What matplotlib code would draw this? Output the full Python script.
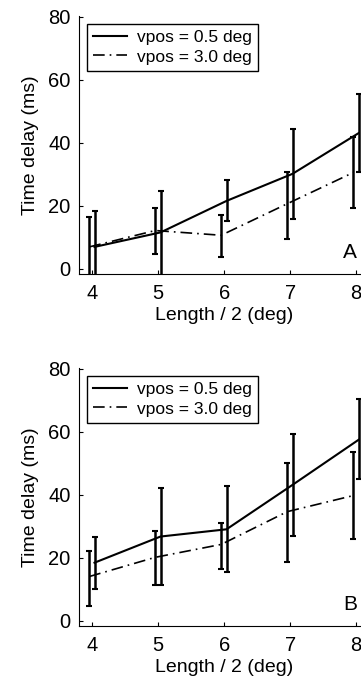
import matplotlib
matplotlib.use("Agg")
import matplotlib.pyplot as plt
import numpy as np

plt.rcParams['font.family'] = ['Liberation Sans', 'DejaVu Sans']

x = [4, 5, 6, 7, 8]
labels = ["vpos = 0.5 deg", "vpos = 3.0 deg"]

# Panel A
a_solid = [7.0, 11.6, 21.6, 30.2, 43.1]
a_solid_lo = [-5.0, -3.0, 15.1, 15.8, 30.8]
a_solid_hi = [18.5, 24.8, 28.3, 44.5, 55.4]
a_dash = [7.0, 12.2, 10.7, 20.7, 30.6]
a_dash_lo = [-5.0, 4.7, 3.8, 9.5, 19.3]
a_dash_hi = [16.4, 19.3, 17.2, 30.8, 42.0]

# Panel B
b_solid = [18.5, 26.8, 29.1, 43.2, 57.5]
b_solid_lo = [10.1, 11.4, 15.4, 27.0, 45.0]
b_solid_hi = [26.5, 42.3, 42.9, 59.5, 70.4]
b_dash = [14.1, 20.2, 24.3, 34.7, 39.8]
b_dash_lo = [4.8, 11.4, 16.6, 18.8, 26.1]
b_dash_hi = [22.2, 28.6, 31.2, 50.1, 53.5]

W, H = 361, 677
fig = plt.figure(figsize=(W / 100, H / 100), dpi=100)

xlim = (3.8, 8.2)
ylim = (-1.6, 80.3)
ax_w = (xlim[1] - xlim[0]) * 66 / W
ax_h = (ylim[1] - ylim[0]) * 3.15 / H
left = 79 / W

def panel(ax, s, slo, shi, d, dlo, dhi, letter):
    xs = np.array(x) + 0.035
    xd = np.array(x) - 0.045
    s = np.array(s); d = np.array(d)
    ax.plot(xs, s, '-', color='black', lw=1.5, label=labels[0])
    ax.plot(xd, d, color='black', lw=1.2, dashes=[7, 3, 1, 3], label=labels[1])
    ax.errorbar(xs, s, yerr=[s - np.array(slo), np.array(shi) - s], fmt='none',
                ecolor='black', elinewidth=1.8, capsize=2.5, capthick=1.5)
    ax.errorbar(xd, d, yerr=[d - np.array(dlo), np.array(dhi) - d], fmt='none',
                ecolor='black', elinewidth=1.8, capsize=2.5, capthick=1.5)
    ax.set_xlim(*xlim)
    ax.set_ylim(*ylim)
    ax.set_xticks(x)
    ax.set_yticks([0, 20, 40, 60, 80])
    ax.spines['top'].set_visible(False)
    ax.spines['right'].set_visible(False)
    ax.tick_params(direction='in', length=3, labelsize=14.5)
    ax.tick_params(axis='x', pad=7.5)
    ax.tick_params(axis='y', pad=6)
    ax.set_xlabel("Length / 2 (deg)", fontsize=14, labelpad=2.5)
    ax.set_ylabel("Time delay (ms)", fontsize=14, labelpad=7)
    leg = ax.legend(loc='upper left', fontsize=12.5, frameon=True, fancybox=False,
                    framealpha=1, edgecolor='black', handlelength=1.95,
                    borderaxespad=0.45, borderpad=0.35, labelspacing=0.25,
                    handletextpad=0.6)
    leg.get_frame().set_linewidth(1.0)
    ax.text(7.91, 2.2, letter, fontsize=15, ha='center', va='bottom')

ax1 = fig.add_axes([left, (H - 274) / H, ax_w, ax_h])
panel(ax1, a_solid, a_solid_lo, a_solid_hi, a_dash, a_dash_lo, a_dash_hi, "A")
ax2 = fig.add_axes([left, (H - 626) / H, ax_w, ax_h])
panel(ax2, b_solid, b_solid_lo, b_solid_hi, b_dash, b_dash_lo, b_dash_hi, "B")

fig.savefig("out.png", dpi=100)
